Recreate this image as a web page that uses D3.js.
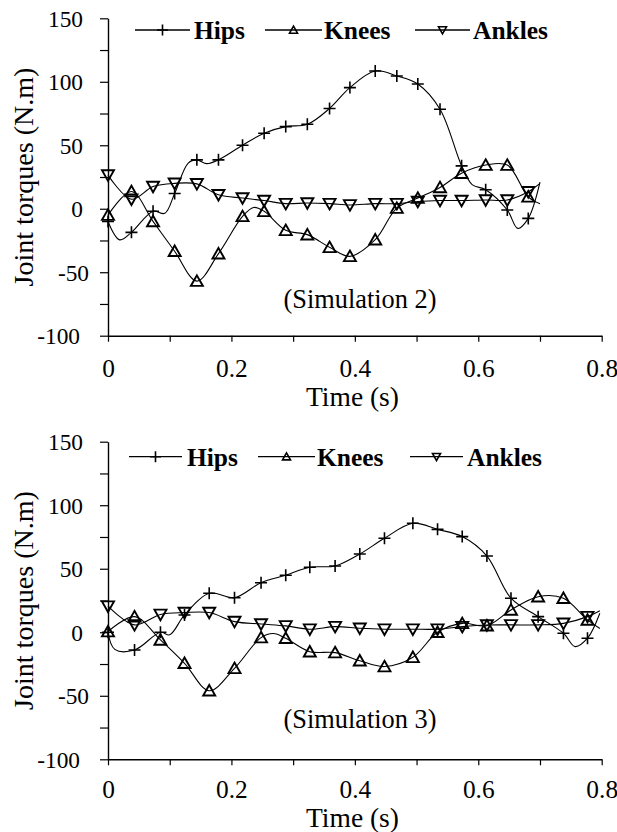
<!DOCTYPE html>
<html>
<head>
<meta charset="utf-8">
<script src="https://cdn.jsdelivr.net/npm/d3@7"></script>
<style>
  body { margin: 0; background: #fff; }
  svg { display: block; }
</style>
</head>
<body>
<svg id="chart" width="617" height="832"></svg>
<script>
// ---- data ----------------------------------------------------------------
const seriesNames = ["Hips", "Knees", "Ankles"];
const xTicks = [0, 0.1, 0.2, 0.3, 0.4, 0.5, 0.6, 0.7, 0.8];
const xTickLabels = ["0", "", "0.2", "", "0.4", "", "0.6", "", "0.8"];
const yTicks = [-100, -75, -50, -25, 0, 25, 50, 75, 100, 125, 150];
const yTickLabels = ["-100", "", "-50", "", "0", "", "50", "", "100", "", "150"];
const panelTitles = ["(Simulation 2)", "(Simulation 3)"];
const xTitle = "Time (s)";
const yTitle = "Joint torques (N.m)";

// each row: [time (s), torque (N.m), 1 if a marker is drawn]
const hipsSim2 = [
  [0, -10, 1], [0.019, -24.5, 0], [0.038, -18.6, 1], [0.073, -2, 1], [0.092, -3.6, 0],
  [0.108, 12, 1], [0.13, 36, 0], [0.144, 38.5, 1], [0.16, 35.5, 0], [0.179, 38.5, 1],
  [0.218, 50, 1], [0.253, 59.5, 1], [0.288, 64.7, 1], [0.323, 66.5, 1], [0.359, 79, 1],
  [0.392, 95.4, 1], [0.433, 108.5, 1], [0.468, 104.6, 1], [0.502, 98.3, 1], [0.538, 78.4, 1],
  [0.573, 33.8, 1], [0.59, 19, 0], [0.612, 15, 1], [0.647, -1, 1], [0.664, -15.5, 0],
  [0.681, -7.6, 1], [0.70, 21, 0]
];
const kneesSim2 = [
  [0, -5, 1], [0.038, 13.6, 1], [0.073, -10, 1], [0.108, -33.5, 1], [0.144, -57, 1],
  [0.179, -35.4, 1], [0.218, -6, 1], [0.236, 1, 0], [0.253, -2, 1], [0.288, -17, 1],
  [0.323, -20.4, 1], [0.359, -30.4, 1], [0.392, -37.5, 1], [0.433, -24.4, 1], [0.468, 0.5, 1],
  [0.502, 8.4, 1], [0.538, 16.8, 1], [0.573, 28, 1], [0.612, 34.4, 1], [0.647, 34.4, 1],
  [0.681, 9.4, 1], [0.70, 4, 0]
];
const anklesSim2 = [
  [0, 26.5, 1], [0.038, 7.5, 1], [0.073, 17.5, 1], [0.108, 20, 1], [0.144, 19.6, 1],
  [0.179, 11, 1], [0.218, 8.4, 1], [0.253, 6.5, 1], [0.288, 4, 1], [0.323, 4.5, 1],
  [0.359, 4, 1], [0.392, 3, 1], [0.433, 4, 1], [0.468, 4, 1], [0.502, 5.7, 1],
  [0.538, 6.5, 1], [0.573, 6.5, 1], [0.612, 6.9, 1], [0.647, 6.9, 1], [0.681, 13.4, 1],
  [0.70, 20, 0]
];

const hipsSim3 = [
  [0, 0, 1], [0.011, -13.5, 0], [0.043, -14, 1], [0.085, 0, 1], [0.10, -2, 0],
  [0.124, 13.6, 1], [0.164, 30.7, 1], [0.205, 27.2, 1], [0.248, 39, 1], [0.288, 44.9, 1],
  [0.327, 51.2, 1], [0.368, 52.2, 1], [0.408, 61.6, 1], [0.448, 74, 1], [0.494, 85.8, 1],
  [0.534, 81, 1], [0.574, 75.3, 1], [0.614, 60, 1], [0.653, 26.8, 1], [0.697, 12.3, 1],
  [0.738, -0.8, 1], [0.757, -11.3, 0], [0.777, -4.7, 1], [0.797, 15, 0]
];
const kneesSim3 = [
  [0, 0.5, 1], [0.043, 12.3, 1], [0.085, -6, 1], [0.124, -24.4, 1], [0.164, -46, 1],
  [0.205, -28.4, 1], [0.248, -4.2, 1], [0.268, -1, 0], [0.288, -4.7, 1], [0.327, -15.3, 1],
  [0.368, -16, 1], [0.408, -22.4, 1], [0.448, -27, 1], [0.494, -19.7, 1], [0.534, 0, 1],
  [0.574, 7, 1], [0.614, 5.2, 1], [0.653, 17.6, 1], [0.697, 28, 1], [0.738, 26.8, 1],
  [0.777, 9.7, 1], [0.797, 3, 0]
];
const anklesSim3 = [
  [0, 20.5, 1], [0.043, 5.8, 1], [0.085, 14, 1], [0.124, 15.5, 1], [0.164, 15.5, 1],
  [0.205, 8.4, 1], [0.248, 6.5, 1], [0.288, 5, 1], [0.327, 2.4, 1], [0.368, 4.4, 1],
  [0.408, 3.1, 1], [0.448, 2.4, 1], [0.494, 2.4, 1], [0.534, 2.4, 1], [0.574, 4.4, 1],
  [0.614, 5.7, 1], [0.653, 5.8, 1], [0.697, 5.8, 1], [0.738, 7, 1], [0.777, 12.3, 1],
  [0.797, 17, 0]
];

const panelSeries = [
  [hipsSim2, kneesSim2, anklesSim2],
  [hipsSim3, kneesSim3, anklesSim3]
];

// ---- fonts ---------------------------------------------------------------
// pick the first installed Times-like face
function fontAvailable(name) {
  const ctx = document.createElement("canvas").getContext("2d");
  const probe = "mmmmmmmmmmlli 0123456789 WQg";
  return ["monospace", "sans-serif"].some(base => {
    ctx.font = `72px ${base}`;
    const w0 = ctx.measureText(probe).width;
    ctx.font = `72px "${name}", ${base}`;
    return ctx.measureText(probe).width !== w0;
  });
}
const serifFace = ["Liberation Serif", "Tinos", "Times New Roman", "Nimbus Roman",
  "DejaVu Serif", "Noto Serif", "FreeSerif"].find(fontAvailable);
const fontStack = serifFace ? `"${serifFace}", serif` : "serif";

// scale a text's font size so its rendered width equals the target width
function fitWidth(sel, size, target) {
  sel.style("font-family", fontStack).style("font-size", size + "px");
  const w = sel.node().getComputedTextLength();
  if (w > 0) sel.style("font-size", (size * target / w) + "px");
  return sel;
}
function widthRatio(str, size, target, weight) {
  const t = d3.select("#chart").append("text")
    .style("font-family", fontStack).style("font-size", size + "px")
    .style("font-weight", weight || "normal").text(str);
  const w = t.node().getComputedTextLength();
  t.remove();
  return w > 0 ? size * target / w : size;
}

// ---- layout --------------------------------------------------------------
const xLeft = 108, xRight = 601.7;
const panels = [
  { yTop: 18.3, yBottom: 335.7, xLabelBase: 377, xTitleBase: 406, titleBase: 308,
    legendY: 30, legend: [[135, 190, 194], [265, 322, 324], [415, 470, 473]] },
  { yTop: 441.7, yBottom: 759.3, xLabelBase: 798, xTitleBase: 827, titleBase: 728,
    legendY: 456.7, legend: [[129, 182, 187], [258, 315, 317], [410, 463, 467]] }
];
// small horizontal nudges of individual y tick labels
const yLabelNudge = { "-50": 6, "-100": -3 };

// marker symbols: plus, open triangle up, open triangle down
function markerPath(kind, s) {
  if (kind === 0) return `M${-s},0H${s}M0,${-s}V${s}`;
  const h = s * 0.8;
  if (kind === 1) return `M0,${-h * 1.2}L${s},${h}L${-s},${h}Z`;
  return `M0,${h * 1.2}L${s},${-h}L${-s},${-h}Z`;
}

const svg = d3.select("#chart");
const x = d3.scaleLinear().domain([0, 0.8]).range([xLeft, xRight]);

const yTickSize = widthRatio("150", 23, 35);
const xTickSize = widthRatio("0.2", 23, 31.7);
const legendSize = widthRatio("Knees", 26, 66.5, "bold");

panels.forEach((p, pi) => {
  const y = d3.scaleLinear().domain([-100, 150]).range([p.yBottom, p.yTop]);
  const g = svg.append("g");

  // y axis
  const yAxis = g.append("g")
    .attr("transform", `translate(${xLeft},0)`)
    .call(d3.axisLeft(y).tickValues(yTicks).tickSize(8).tickSizeOuter(0)
      .tickFormat((d, i) => yTickLabels[i]));
  yAxis.select(".domain").attr("stroke-width", 1.4);
  yAxis.selectAll(".tick line").attr("stroke-width", 1.2);
  yAxis.selectAll(".tick text")
    .attr("x", function () { return -25 + (yLabelNudge[this.textContent] || 0); })
    .attr("dy", "0.34em")
    .style("font-size", yTickSize + "px").style("font-family", fontStack);

  // x axis
  const xAxis = g.append("g")
    .attr("transform", `translate(0,${p.yBottom})`)
    .call(d3.axisBottom(x).tickValues(xTicks).tickSize(6).tickSizeOuter(0)
      .tickFormat((d, i) => xTickLabels[i]));
  xAxis.select(".domain").attr("stroke-width", 1.4);
  xAxis.selectAll(".tick line").attr("stroke-width", 1.2);
  xAxis.selectAll(".tick text")
    .attr("y", p.xLabelBase - p.yBottom).attr("dy", 0)
    .style("font-size", xTickSize + "px").style("font-family", fontStack);

  // titles
  fitWidth(g.append("text")
    .attr("x", 352.5).attr("y", p.xTitleBase)
    .attr("text-anchor", "middle").attr("fill", "#000")
    .text(xTitle), 27, 93);
  const yMid = (p.yTop + p.yBottom) / 2;
  fitWidth(g.append("text")
    .attr("transform", `translate(33,${yMid}) rotate(-90)`)
    .attr("text-anchor", "middle").attr("fill", "#000")
    .text(yTitle), 27, 219);
  fitWidth(g.append("text")
    .attr("x", 283.5).attr("y", p.titleBase).attr("fill", "#000")
    .text(panelTitles[pi]), 26, 153);

  // curves and markers
  const line = d3.line()
    .x(d => x(d[0])).y(d => y(d[1]))
    .curve(d3.curveCatmullRom.alpha(0.5));

  panelSeries[pi].forEach((data, si) => {
    g.append("path")
      .attr("d", line(data))
      .attr("fill", "none").attr("stroke", "#000").attr("stroke-width", 1.1);
    g.selectAll(null)
      .data(data.filter(d => d[2] === 1))
      .join("path")
      .attr("transform", d => `translate(${x(d[0])},${y(d[1])})`)
      .attr("d", markerPath(si, 6))
      .attr("fill", "none").attr("stroke", "#000")
      .attr("stroke-width", si === 0 ? 1.6 : 1.9);
  });

  // legend
  seriesNames.forEach((name, si) => {
    const [x0, x1, tx] = p.legend[si];
    const ly = p.legendY;
    g.append("line")
      .attr("x1", x0).attr("x2", x1).attr("y1", ly).attr("y2", ly)
      .attr("stroke", "#000").attr("stroke-width", 1.3);
    g.append("path")
      .attr("transform", `translate(${(x0 + x1) / 2},${ly})`)
      .attr("d", markerPath(si, si === 0 ? 5.5 : 4))
      .attr("fill", "none").attr("stroke", "#000").attr("stroke-width", 1.6);
    g.append("text")
      .attr("x", tx).attr("y", ly + 9).attr("fill", "#000")
      .style("font-family", fontStack)
      .style("font-size", legendSize + "px").style("font-weight", "bold")
      .text(name);
  });
});
</script>
</body>
</html>
